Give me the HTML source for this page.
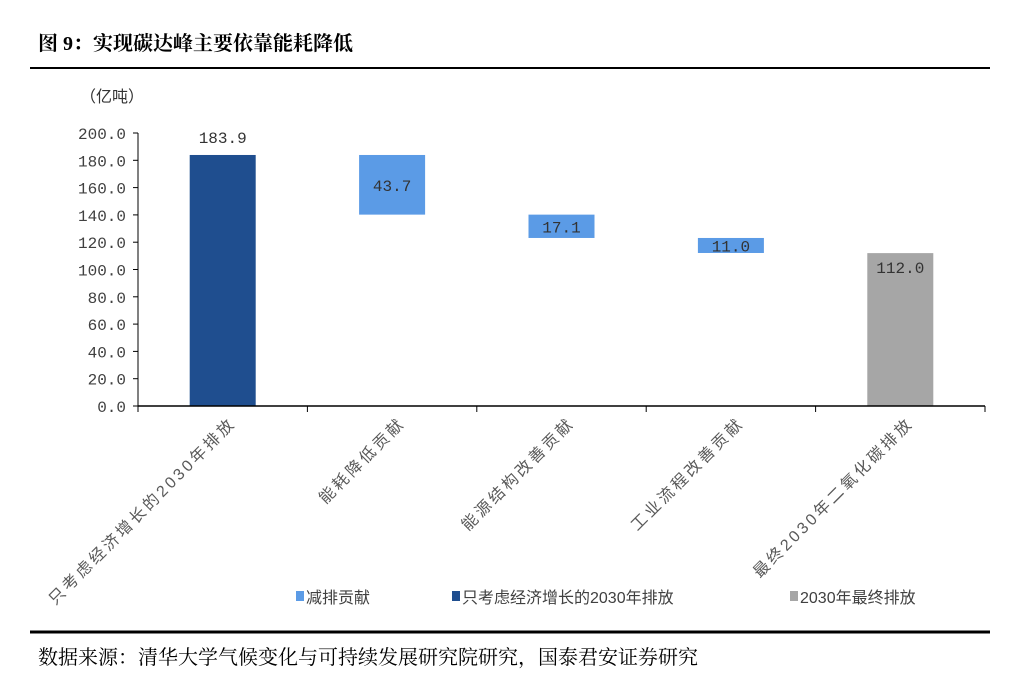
<!DOCTYPE html>
<html><head><meta charset="utf-8"><style>
body{margin:0;background:#fff;width:1034px;height:686px;overflow:hidden;font-family:"Liberation Sans","Noto Sans CJK SC",sans-serif}
.serif{font-family:"Liberation Serif","Noto Serif CJK SC",serif}
</style></head><body>
<svg width="1034" height="686" xmlns="http://www.w3.org/2000/svg">
<text class="serif" x="38" y="50" font-size="20" font-weight="bold" fill="#000">图 9：实现碳达峰主要依靠能耗降低</text>
<line x1="30" y1="68" x2="990" y2="68" stroke="#000" stroke-width="2"/>
<text x="80" y="102" font-size="16" fill="#333">（亿吨）</text>
<g id="plot"></g>
<g id="legend"></g>
<line x1="30" y1="632" x2="990" y2="632" stroke="#000" stroke-width="3"/>
<text class="serif" x="38" y="664" font-size="20" fill="#000">数据来源：清华大学气候变化与可持续发展研究院研究，国泰君安证券研究</text>
</svg>
<script>
const categories=["只考虑经济增长的2030年排放","能耗降低贡献","能源结构改善贡献","工业流程改善贡献","最终2030年二氧化碳排放"];
const values=[183.9,43.7,17.1,11.0,112.0];
const kinds=["base","reduce","reduce","reduce","final"];
const yTicks=[0,20,40,60,80,100,120,140,160,180,200];
const legendLabels=["减排贡献","只考虑经济增长的2030年排放","2030年最终排放"];
const NS="http://www.w3.org/2000/svg";
const x0=138,x1=985,yBase=406,yTop=133,yMax=200;
const bw=(x1-x0)/categories.length;
const Y=v=>yBase-(v/yMax)*(yBase-yTop);
const X=i=>x0+bw*(i+0.5);
const colors={base:"#1f4e8f",reduce:"#5b9be6",final:"#a6a6a6"};
const g=document.getElementById('plot');
function mk(t,a){const e=document.createElementNS(NS,t);for(const k in a)e.setAttribute(k,a[k]);return e;}
let ax=mk('line',{x1:x0,y1:yTop,x2:x0,y2:yBase,stroke:'#000'});


g.appendChild(ax);
yTicks.forEach(t=>{
 const tk=mk('line',{x1:x0-5,y1:Y(t),x2:x0,y2:Y(t),stroke:'#000'});
 
 
 g.appendChild(tk);
 const tx=mk('text',{x:x0-12,y:Y(t)+6,'font-size':16,'text-anchor':'end',fill:'#404040','font-family':'Liberation Mono,monospace'});
 tx.textContent=t.toFixed(1);
 
 
 g.appendChild(tx);
});
let run=0;
categories.forEach((c,i)=>{
 const v=values[i];let top,bot;
 if(kinds[i]==='base'){top=v;bot=0;run=v;}
 else if(kinds[i]==='reduce'){top=run;bot=run-v;run=bot;}
 else{top=v;bot=0;}
 const r=mk('rect',{x:X(i)-33,y:Y(top),width:66,height:Y(bot)-Y(top),fill:colors[kinds[i]]});
 
 
 g.appendChild(r);
 let ly=kinds[i]==='base'?Y(top)-12:(kinds[i]==='final'?Y(top)+20:(Y(top)+Y(bot))/2+6);
 const lt=mk('text',{x:X(i),y:ly,'font-size':16,'text-anchor':'middle',fill:'#333','font-family':'Liberation Mono,monospace'});
 lt.textContent=v.toFixed(1);
 
 
 g.appendChild(lt);
 const ax2=X(i)+14,ay=424;
 const ct=mk('text',{x:ax2,y:ay,'font-size':16,'text-anchor':'end','letter-spacing':'3',fill:'#595959',transform:`rotate(-45 ${ax2} ${ay})`});
 ct.textContent=c;
 
 
 g.appendChild(ct);
});
for(let i=0;i<=categories.length;i++){
 const tk=mk('line',{x1:x0+bw*i,y1:yBase,x2:x0+bw*i,y2:yBase+6,stroke:'#000'});
 
 
 g.appendChild(tk);
}
let xa=mk('line',{x1:x0,y1:yBase,x2:x1,y2:yBase,stroke:'#000','stroke-width':1.5});


g.appendChild(xa);
const lg=document.getElementById('legend');
const lx=[296,452,790],lc=[colors.reduce,colors.base,colors.final];
legendLabels.forEach((l,i)=>{
 const s=mk('rect',{x:lx[i],y:591,width:8,height:10,fill:lc[i]});
 
 
 lg.appendChild(s);
 const t=mk('text',{x:lx[i]+10,y:603,'font-size':16,fill:'#404040'});
 t.textContent=l;
 
 
 lg.appendChild(t);
});
</script>
</body></html>
